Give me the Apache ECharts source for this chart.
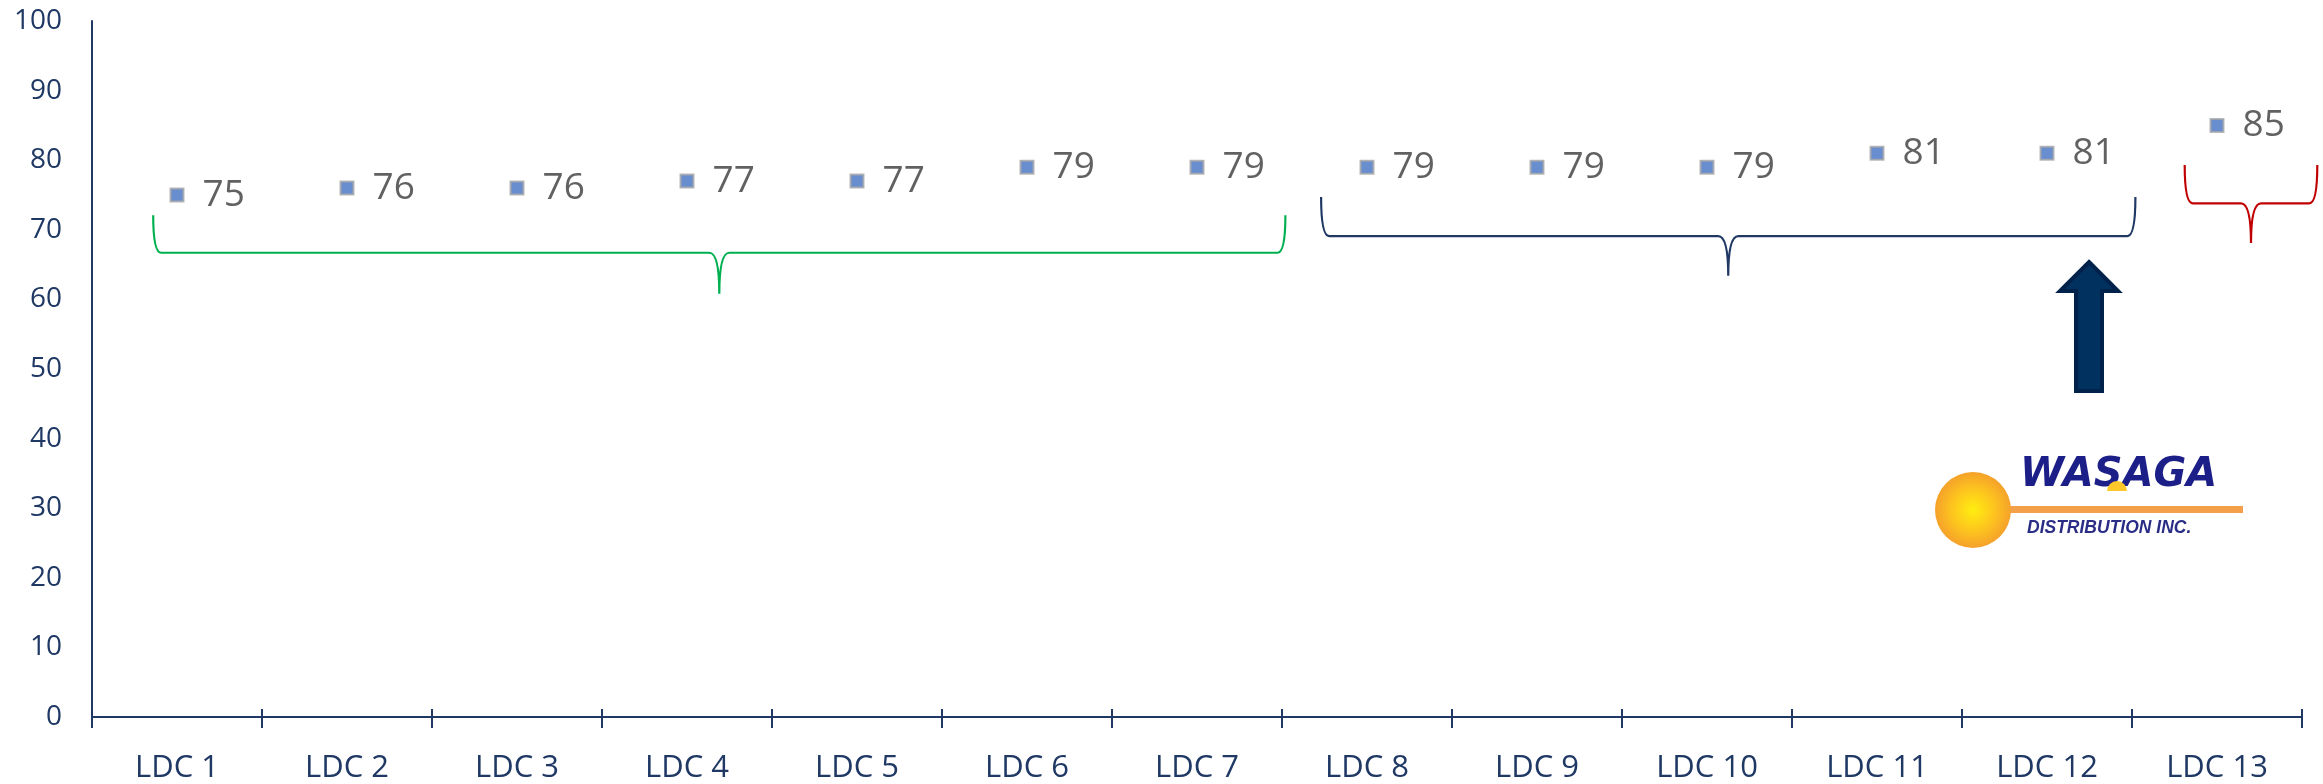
<!DOCTYPE html>
<html>
<head>
<meta charset="utf-8">
<style>
  html, body { margin: 0; padding: 0; background: #ffffff; }
  #chart { width: 2323px; height: 784px; }
</style>
<script src="https://cdn.jsdelivr.net/npm/echarts@6/dist/echarts.min.js"></script>
</head>
<body>
<div id="chart"></div>
<script>
// ---- data ----
const categories = ['LDC 1', 'LDC 2', 'LDC 3', 'LDC 4', 'LDC 5', 'LDC 6', 'LDC 7',
                    'LDC 8', 'LDC 9', 'LDC 10', 'LDC 11', 'LDC 12', 'LDC 13'];
const scores = [75, 76, 76, 77, 77, 79, 79, 79, 79, 79, 81, 81, 85];
const yTicks = [0, 10, 20, 30, 40, 50, 60, 70, 80, 90, 100];

// ---- annotation braces (in axis units: category index, value) ----
const braceSpecs = [
  { x0: -0.14, x1: 6.52,  top: 72.1, bar: 66.7, tip: 60.8, color: '#00B050' },
  { x0: 6.73,  x1: 11.52, top: 74.7, bar: 69.1, tip: 63.4, color: '#1F3864' },
  { x0: 11.81, x1: 12.59, top: 79.3, bar: 73.8, tip: 68.1, color: '#C00000' }
];

const NAVY = '#1F3864';
const GRID = { left: 92, right: 21, top: 21, bottom: 64 };
const GRID_H = 784 - GRID.top - GRID.bottom;
const chart = echarts.init(document.getElementById('chart'), null, { renderer: 'canvas' });

function braceItem(params, api) {
  const b = braceSpecs[params.dataIndex];
  const c0 = api.coord([0, 0]);
  const band = api.size([1, 0])[0];
  const px = v => c0[0] + v * band;
  const py = v => api.coord([0, v])[1];
  const L = px(b.x0), R = px(b.x1), M = (L + R) / 2;
  const T = py(b.top), B = py(b.bar), P = py(b.tip);
  const r = 8, cw = 10;
  const path =
    'M' + L + ',' + T +
    ' Q' + L + ',' + B + ' ' + (L + r) + ',' + B +
    ' L' + (M - cw) + ',' + B +
    ' Q' + M + ',' + B + ' ' + M + ',' + P +
    ' Q' + M + ',' + B + ' ' + (M + cw) + ',' + B +
    ' L' + (R - r) + ',' + B +
    ' Q' + R + ',' + B + ' ' + R + ',' + T;
  return {
    type: 'path',
    shape: { pathData: path },
    style: { fill: null, stroke: b.color, lineWidth: 2.2 }
  };
}

const option = {
  backgroundColor: '#ffffff',
  animation: false,
  grid: { left: GRID.left, right: GRID.right, top: GRID.top, bottom: GRID.bottom, containLabel: false },
  xAxis: [
    {
      type: 'category',
      data: categories,
      position: 'bottom',
      boundaryGap: true,
      axisLine: { show: true, onZero: false, lineStyle: { color: NAVY, width: 2 } },
      axisTick: { show: true, alignWithLabel: false, length: 11, lineStyle: { color: NAVY, width: 2 } },
      axisLabel: { color: NAVY, fontFamily: 'Open Sans', fontSize: 31, margin: 36 },
      splitLine: { show: false }
    },
    {
      type: 'category',
      data: categories,
      position: 'top',
      offset: -GRID_H,
      boundaryGap: true,
      axisLine: { show: false, onZero: false },
      axisTick: { show: true, length: 11, lineStyle: { color: NAVY, width: 2 } },
      axisLabel: { show: false },
      splitLine: { show: false }
    }
  ],
  yAxis: {
    type: 'value',
    min: yTicks[0],
    max: yTicks[yTicks.length - 1],
    interval: yTicks[1] - yTicks[0],
    axisLine: { show: true, lineStyle: { color: NAVY, width: 2 } },
    axisTick: { show: false },
    axisLabel: { color: NAVY, fontFamily: 'Open Sans', fontSize: 28, margin: 30 },
    splitLine: { show: false }
  },
  series: [
    {
      type: 'scatter',
      xAxisIndex: 0,
      data: scores,
      symbol: 'rect',
      symbolSize: 13,
      itemStyle: { color: '#4472C4', borderColor: '#A6A6A6', borderWidth: 2 },
      label: {
        show: true,
        position: 'right',
        distance: 18,
        color: '#3A3A3A',
        fontFamily: 'Open Sans',
        fontSize: 37,
        formatter: p => String(p.value)
      },
      silent: true,
      z: 3
    },
    {
      type: 'custom',
      xAxisIndex: 0,
      data: braceSpecs.map((b, i) => [i, 0]),
      renderItem: braceItem,
      clip: false,
      silent: true,
      z: 2
    }
  ],
  graphic: [
    {
      type: 'polygon',
      shape: { points: [[2089, 262], [2118, 291], [2102, 291], [2102, 391], [2076, 391], [2076, 291], [2060, 291]] },
      style: { fill: '#00315F', stroke: '#00224A', lineWidth: 4 },
      z: 10
    },
    {
      type: 'group',
      z: 10,
      children: [
        {
          type: 'rect',
          shape: { x: 2000, y: 506, width: 243, height: 7 },
          style: { fill: '#F4A04A' }
        },
        {
          type: 'circle',
          shape: { cx: 1973, cy: 510, r: 38 },
          style: {
            fill: new echarts.graphic.RadialGradient(0.5, 0.5, 0.5, [
              { offset: 0, color: '#FFEE10' },
              { offset: 0.55, color: '#FDC51E' },
              { offset: 1, color: '#F5A12A' }
            ])
          }
        },
        {
          type: 'text',
          style: {
            x: 2020, y: 476,
            text: 'WASAGA',
            fill: '#1C1F88',
            font: 'italic bold 40px "DejaVu Sans", sans-serif',
            verticalAlign: 'middle',
            align: 'left'
          }
        },
        {
          type: 'sector',
          shape: { cx: 2117, cy: 491, r0: 0, r: 10, startAngle: Math.PI, endAngle: 2 * Math.PI },
          style: { fill: '#FFC82A' }
        },
        {
          type: 'text',
          style: {
            x: 2027, y: 528,
            text: 'DISTRIBUTION INC.',
            fill: '#2A2D86',
            font: 'italic bold 17.5px "Liberation Sans", Arial, sans-serif',
            verticalAlign: 'middle',
            align: 'left'
          }
        }
      ]
    }
  ]
};

chart.setOption(option);
</script>
</body>
</html>
